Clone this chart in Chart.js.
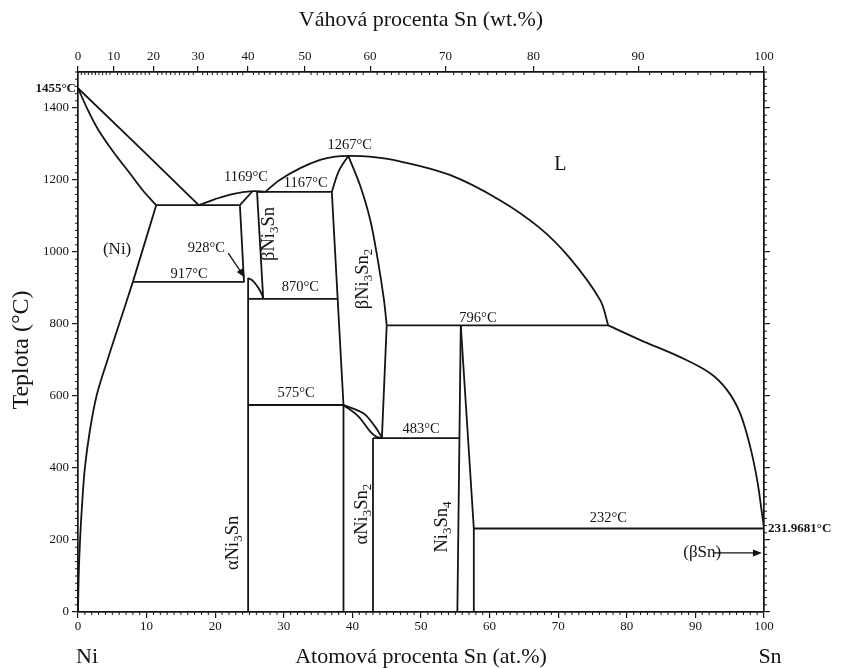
<!DOCTYPE html>
<html>
<head>
<meta charset="utf-8">
<script src="https://cdn.jsdelivr.net/npm/chart.js@4.4.1/dist/chart.umd.min.js"></script>
<style>
  html, body { margin: 0; padding: 0; background: #fff; }
  canvas { display: block; }
</style>
</head>
<body>
<canvas id="c" width="842" height="668"></canvas>
<script>
// Ni–Sn binary phase diagram: composition in at.% Sn, temperature in °C.

const SERIF = '"Liberation Serif", "Times New Roman", serif';
const INK = '#141414';

// Axis ticks
const atTicks = [0, 10, 20, 30, 40, 50, 60, 70, 80, 90, 100];
const wtTicks = [0, 10, 20, 30, 40, 50, 60, 70, 80, 90, 100];
const tempTicks = [0, 200, 400, 600, 800, 1000, 1200, 1400];

// Molar masses used to place the wt.% scale on the at.% axis
const M_NI = 58.69;
const M_SN = 118.71;
function atFromWt(w) {
  if (w <= 0) return 0;
  if (w >= 100) return 100;
  const a = w / M_SN, b = (100 - w) / M_NI;
  return 100 * a / (a + b);
}

// Phase boundaries, [at.% Sn, °C]
const liquidusNi      = [[0, 1455], [9, 1290], [17.6, 1130]];
const solidusNi       = [[0, 1455], [1.5, 1392], [3, 1338], [5, 1282], [7.5, 1220], [9.5, 1170], [11.4, 1130]];
const solvusNiHigh    = [[11.4, 1130], [8.0, 917]];
const solvusNiLow     = [[8.0, 917], [6.0, 800], [4.3, 700], [2.7, 600], [1.7, 500], [1.0, 400], [0.6, 300], [0.3, 200], [0.1, 100], [0, 0]];
const eutectic1130    = [[11.4, 1130], [23.6, 1130]];
const liquidusNi3Sn   = [[17.6, 1130], [20, 1147], [22.5, 1161], [25.5, 1169], [27.3, 1167]];
const ni3SnSolidus    = [[23.6, 1130], [25.4, 1168]];
const ni3SnNiSide     = [[23.6, 1130], [24.2, 917]];
const eutectoid917    = [[8.0, 917], [24.3, 917]];
const alphaNi3Sn      = [[24.8, 0], [24.8, 928]];
const betaNi3SnArc    = [[24.8, 928], [25.6, 918], [26.3, 900], [26.8, 882], [27.0, 870]];
const betaNi3SnSnSide = [[26.1, 1167], [27.0, 870]];
const eutectic1167    = [[26.1, 1167], [37.0, 1167]];
const eutectoid870    = [[24.8, 870], [37.95, 870]];
const liquidusDome    = [[27.3, 1167], [29.4, 1200], [32.4, 1233], [35.3, 1256], [37.5, 1265], [39.4, 1267],
                         [42.5, 1265], [46.9, 1252], [54.2, 1214], [61.5, 1144], [67.3, 1067], [71.7, 983], [76.1, 867], [77.3, 796]];
const betaNi3Sn2Sol   = [[39.4, 1267], [38.0, 1224], [37.0, 1167]];
const betaNi3Sn2Left  = [[37.0, 1167], [38.7, 575]];
const betaNi3Sn2Right = [[39.4, 1267], [41.1, 1186], [42.6, 1089], [43.7, 978], [44.6, 867], [45.0, 796]];
const betaNi3Sn2Low   = [[45.0, 796], [44.3, 483]];
const peritectic796   = [[45.0, 796], [77.3, 796]];
const eutectoid575    = [[24.8, 575], [38.7, 575]];
const alphaNi3Sn2Left = [[38.7, 0], [38.7, 575]];
const alphaNi3Sn2Right= [[43.0, 0], [43.0, 483]];
const lensUpper       = [[38.7, 575], [41.6, 552], [43.3, 515], [44.3, 485]];
const lensLower       = [[38.7, 575], [40.9, 543], [42.6, 501], [43.5, 487], [44.3, 483]];
const eutectoid483    = [[43.0, 483], [55.6, 483]];
const ni3Sn4Left      = [[55.8, 796], [55.3, 0]];
const ni3Sn4Right     = [[55.8, 796], [57.7, 232], [57.7, 0]];
const eutectic232     = [[57.7, 232], [100, 232]];
const liquidusSn      = [[77.3, 796], [81.9, 756], [87.8, 708], [92.1, 664], [94.6, 617], [96.5, 553],
                         [98.0, 458], [99.0, 367], [99.7, 275], [100, 232]];
const betaSnField     = [[100, 0], [100, 232]];

const straightLines = [liquidusNi, solvusNiHigh, eutectic1130, ni3SnSolidus, ni3SnNiSide, eutectoid917,
  alphaNi3Sn, betaNi3SnSnSide, eutectic1167, eutectoid870, betaNi3Sn2Left, betaNi3Sn2Low, peritectic796,
  eutectoid575, alphaNi3Sn2Left, alphaNi3Sn2Right, eutectoid483, ni3Sn4Left, ni3Sn4Right, eutectic232, betaSnField];
const curvedLines = [solidusNi, solvusNiLow, liquidusNi3Sn, betaNi3SnArc, liquidusDome, betaNi3Sn2Sol,
  betaNi3Sn2Right, lensUpper, lensLower, liquidusSn];

// Invariant temperatures written on the diagram, [text, at.% Sn, °C]
const tempNotes = [
  ['1169°C', 24.5, 1208], ['1167°C', 33.2, 1192], ['1267°C', 39.6, 1296],
  ['928°C', 18.7, 1011], ['917°C', 16.2, 939], ['870°C', 32.4, 903],
  ['796°C', 58.3, 817], ['575°C', 31.8, 608], ['483°C', 50.0, 508], ['232°C', 77.3, 261]
];
// Phase fields ("_n" marks a subscript digit), [text, at.% Sn, °C, rotated]
const phaseNames = [
  ['(Ni)', 5.7, 1006, false], ['L', 70.3, 1242, false],
  ['βNi_3Sn', 27.8, 1050, true], ['βNi_3Sn_2', 41.6, 925, true],
  ['αNi_3Sn', 22.6, 192, true], ['αNi_3Sn_2', 41.4, 272, true],
  ['Ni_3Sn_4', 53.1, 236, true], ['(βSn)', 91.0, 164, false]
];
// Pointer arrows, [from at.%, from °C, to at.%, to °C]
const pointers = [[21.9, 997, 24.3, 929], [92.6, 164, 99.7, 164]];

function series(points, curved) {
  return {
    data: points.map(([x, y]) => ({ x, y })),
    showLine: true,
    borderColor: INK,
    borderWidth: 1.8,
    pointRadius: 0,
    tension: curved ? 0.35 : 0,
    fill: false
  };
}
const datasets = [
  ...straightLines.map(p => series(p, false)),
  ...curvedLines.map(p => series(p, true))
];

// Text with subscript digits
function drawRich(ctx, text, x, y, size, rotated, weight) {
  const parts = [];
  text.split(/(_\d)/).forEach(s => {
    if (!s) return;
    if (s[0] === '_') parts.push([s.slice(1), true]); else parts.push([s, false]);
  });
  const pre = weight ? weight + ' ' : '';
  const big = pre + size + 'px ' + SERIF, small = pre + Math.round(size * 0.68) + 'px ' + SERIF;
  let w = 0;
  parts.forEach(([s, sub]) => { ctx.font = sub ? small : big; w += ctx.measureText(s).width; });
  ctx.save();
  ctx.translate(x, y);
  if (rotated) ctx.rotate(-Math.PI / 2);
  ctx.textBaseline = 'middle';
  ctx.textAlign = 'left';
  let cx = -w / 2;
  parts.forEach(([s, sub]) => {
    ctx.font = sub ? small : big;
    ctx.fillText(s, cx, sub ? size * 0.3 : 0);
    cx += ctx.measureText(s).width;
  });
  ctx.restore();
}

function arrow(ctx, x1, y1, x2, y2) {
  const a = Math.atan2(y2 - y1, x2 - x1), L = 9, H = 3.5;
  ctx.beginPath();
  ctx.moveTo(x1, y1);
  ctx.lineTo(x2 - Math.cos(a) * L * 0.8, y2 - Math.sin(a) * L * 0.8);
  ctx.stroke();
  ctx.beginPath();
  ctx.moveTo(x2, y2);
  ctx.lineTo(x2 - Math.cos(a) * L + Math.sin(a) * H, y2 - Math.sin(a) * L - Math.cos(a) * H);
  ctx.lineTo(x2 - Math.cos(a) * L - Math.sin(a) * H, y2 - Math.sin(a) * L + Math.cos(a) * H);
  ctx.closePath();
  ctx.fill();
}

const decorations = {
  id: 'decorations',
  afterDraw(chart) {
    const { ctx, chartArea: ca, scales } = chart;
    const xs = scales.x, ys = scales.y;
    ctx.save();
    ctx.strokeStyle = INK;
    ctx.fillStyle = INK;
    ctx.lineWidth = 1;

    // minor ticks
    ctx.beginPath();
    for (let v = 1; v < 100; v++) {
      if (v % 10 === 0) continue;
      const px = xs.getPixelForValue(v);
      ctx.moveTo(px, ca.bottom); ctx.lineTo(px, ca.bottom + 3);
    }
    for (let w = 1; w < 100; w++) {
      if (w % 10 === 0) continue;
      const px = xs.getPixelForValue(atFromWt(w));
      ctx.moveTo(px, ca.top); ctx.lineTo(px, ca.top + 3);
    }
    for (let t = 20; t <= 1500; t += 20) {
      if (t % 200 === 0) continue;
      const py = ys.getPixelForValue(t);
      ctx.moveTo(ca.left, py); ctx.lineTo(ca.left - 3, py);
      ctx.moveTo(ca.right, py); ctx.lineTo(ca.right + 3, py);
    }
    ctx.stroke();

    // invariant temperatures
    tempNotes.forEach(([t, a, T]) => drawRich(ctx, t, xs.getPixelForValue(a), ys.getPixelForValue(T), 14.5, false));
    // phase fields
    phaseNames.forEach(([t, a, T, rot]) => {
      const size = t === 'L' ? 20 : rot ? 18.5 : 17;
      drawRich(ctx, t, xs.getPixelForValue(a), ys.getPixelForValue(T), size, rot);
    });
    // arrows
    ctx.lineWidth = 1.3;
    pointers.forEach(([a1, T1, a2, T2]) =>
      arrow(ctx, xs.getPixelForValue(a1), ys.getPixelForValue(T1), xs.getPixelForValue(a2), ys.getPixelForValue(T2)));

    // melting points of the pure metals
    ctx.font = 'bold 13px ' + SERIF;
    ctx.textBaseline = 'middle';
    ctx.textAlign = 'right';
    ctx.fillText('1455°C', ca.left - 2, ys.getPixelForValue(1455));
    ctx.textAlign = 'left';
    ctx.fillText('231.9681°C', ca.right + 4, ys.getPixelForValue(232));

    // axis titles and element names
    const mid = (ca.left + ca.right) / 2;
    drawRich(ctx, 'Váhová procenta Sn (wt.%)', mid, 20, 22, false);
    drawRich(ctx, 'Atomová procenta Sn (at.%)', mid, 657, 22, false);
    drawRich(ctx, 'Ni', xs.getPixelForValue(0) + 9, 657, 22, false);
    drawRich(ctx, 'Sn', xs.getPixelForValue(100) + 6, 657, 22, false);
    drawRich(ctx, 'Teplota (°C)', 22, (ys.getPixelForValue(0) + ys.getPixelForValue(1500)) / 2 + 8, 24, true);
    ctx.restore();
  }
};

const tickFont = { family: SERIF, size: 13 };
const axisGrid = { drawOnChartArea: false, drawTicks: true, tickLength: 6, color: INK, lineWidth: 1.2 };
const axisBorder = { display: true, color: INK, width: 1.7 };

new Chart(document.getElementById('c'), {
  type: 'scatter',
  data: { datasets },
  options: {
    responsive: false,
    animation: false,
    devicePixelRatio: 1,
    layout: { padding: 0 },
    plugins: { legend: { display: false }, tooltip: { enabled: false }, title: { display: false } },
    scales: {
      x: {
        type: 'linear', position: 'bottom', min: 0, max: 100,
        afterBuildTicks: s => { s.ticks = atTicks.map(v => ({ value: v })); },
        afterFit: s => { s.height = 56; },
        ticks: { font: tickFont, color: INK, padding: 1, autoSkip: false, maxRotation: 0,
                 callback: v => String(v) },
        grid: axisGrid, border: axisBorder
      },
      xTop: {
        type: 'linear', position: 'top', min: 0, max: 100,
        afterBuildTicks: s => { s.ticks = wtTicks.map(w => ({ value: atFromWt(w) })); },
        afterFit: s => { s.height = 72; },
        ticks: { font: tickFont, color: INK, padding: 2, autoSkip: false, maxRotation: 0,
                 callback: (v, i) => String(wtTicks[i]) },
        grid: axisGrid, border: axisBorder
      },
      y: {
        type: 'linear', position: 'left', min: 0, max: 1500,
        afterBuildTicks: s => { s.ticks = tempTicks.map(v => ({ value: v })); },
        afterFit: s => { s.width = 78; },
        ticks: { font: tickFont, color: INK, padding: 3, autoSkip: false,
                 callback: v => String(v) },
        grid: axisGrid, border: axisBorder
      },
      yRight: {
        type: 'linear', position: 'right', min: 0, max: 1500,
        afterBuildTicks: s => { s.ticks = tempTicks.map(v => ({ value: v })); },
        afterFit: s => { s.width = 78; },
        ticks: { display: false },
        grid: axisGrid, border: axisBorder
      }
    }
  },
  plugins: [decorations]
});
</script>
</body>
</html>
